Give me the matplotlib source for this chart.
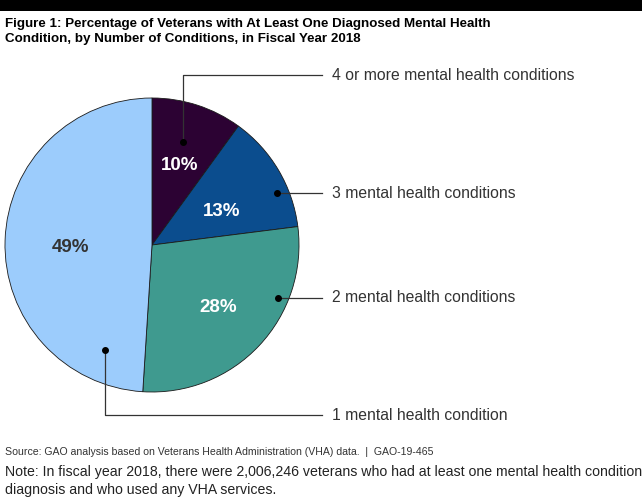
import matplotlib
matplotlib.use("Agg")
import matplotlib.pyplot as plt

plt.rcParams['font.family'] = ['Liberation Sans', 'DejaVu Sans']

# data
categories = ["4 or more mental health conditions", "3 mental health conditions",
              "2 mental health conditions", "1 mental health condition"]
shares = [10, 13, 28, 49]
colors = ["#2c0233", "#0b4d8e", "#3f9a8f", "#9cccfc"]
pct_colors = ["white", "white", "white", "#333333"]

W, H = 642, 503
fig = plt.figure(figsize=(W / 100, H / 100), dpi=100)
ax = fig.add_axes([0, 0, 1, 1])
ax.set_xlim(0, W)
ax.set_ylim(H, 0)  # pixel coords, y down
ax.axis("off")

# black band at top
ax.add_patch(plt.Rectangle((0, 0), W, 11, color="black", lw=0))

ax.text(5, 27, "Figure 1: Percentage of Veterans with At Least One Diagnosed Mental Health",
        fontsize=9.6, fontweight="bold", va="baseline", ha="left")
ax.text(5, 42, "Condition, by Number of Conditions, in Fiscal Year 2018",
        fontsize=9.6, fontweight="bold", va="baseline", ha="left")

# pie in its own axes (normal y direction)
cx, cy, r = 152, 245, 147
pax = fig.add_axes([(cx - r) / W, 1 - (cy + r) / H, 2 * r / W, 2 * r / H])
wedges, _ = pax.pie(shares, colors=colors, startangle=90, counterclock=False,
                    wedgeprops=dict(edgecolor="#1a1a1a", linewidth=0.6))
pax.set_aspect("equal")
pax.set_xlim(-1, 1)
pax.set_ylim(-1, 1)

# percentage labels
pct_pos = [(180, 166), (222, 212), (218, 307), (70, 247)]
for s, (px, py), c in zip(shares, pct_pos, pct_colors):
    ax.text(px, py, f"{s}%", color=c, fontsize=13.5, fontweight="bold", ha="center", va="center",
            zorder=5)

# leader lines
line_end = 322
label_x = 332
leaders = [
    [(183, 142), (183, 75), (line_end, 75)],
    [(277, 193), (line_end, 193)],
    [(278, 298), (line_end, 298)],
    [(105, 350), (105, 415), (line_end, 415)],
]
for cat, pts in zip(categories, leaders):
    xs = [p[0] for p in pts]
    ys = [p[1] for p in pts]
    ax.plot(xs, ys, color="#333333", lw=0.9, zorder=6)
    ax.plot(xs[0], ys[0], "o", color="black", ms=4, zorder=7)
    ax.text(label_x, ys[-1], cat, fontsize=11.3, color="#333333", va="center", ha="left")

ax.set_zorder(2)
ax.patch.set_visible(False)

ax.text(5, 452, "Source: GAO analysis based on Veterans Health Administration (VHA) data.  |  GAO-19-465",
        fontsize=7.6, color="#333333", va="center", ha="left")
ax.text(5, 472, "Note: In fiscal year 2018, there were 2,006,246 veterans who had at least one mental health condition",
        fontsize=10.15, color="#222222", va="center", ha="left")
ax.text(5, 490, "diagnosis and who used any VHA services.",
        fontsize=10.15, color="#222222", va="center", ha="left")

fig.savefig("out.png", dpi=100)
